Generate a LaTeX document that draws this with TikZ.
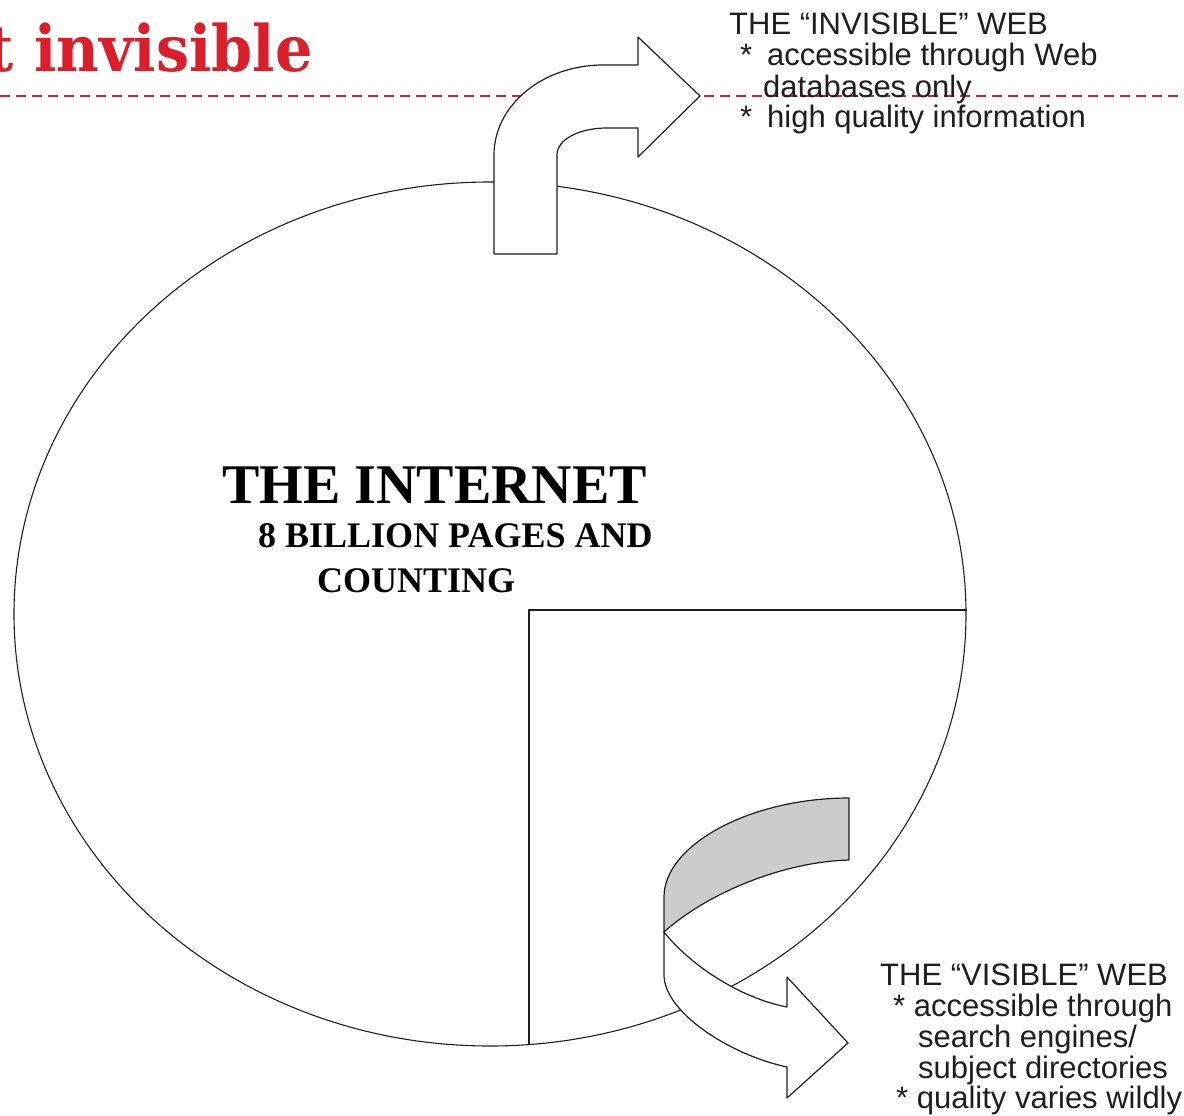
\documentclass[tikz,border=0pt]{standalone}
\usepackage{fontspec}
\setmainfont{Liberation Serif}
\newfontfamily\arialf{Liberation Sans}
\newfontfamily\slabf{DejaVu Serif}
\usetikzlibrary{shapes.geometric}
\definecolor{titlered}{HTML}{DA1F2B}
\definecolor{ink}{HTML}{1E1E1E}
\definecolor{ribbongrey}{HTML}{CCCCCC}
\tikzset{
  outline/.style={draw=ink, line width=1.2pt, line join=round},
  webtext/.style={anchor=base west, inner sep=0pt, text=ink, font=\arialf\fontsize{31}{31}\selectfont},
  nettext/.style={anchor=base west, inner sep=0pt, text=black},
}
\begin{document}
\begin{tikzpicture}[x=1pt,y=-1pt]
\useasboundingbox (0,0) rectangle (1184,1116);

% red dashed rule
\coordinate (ruleL) at (0,96);
\coordinate (ruleR) at (1184,96);
\draw[titlered, line width=2.2pt, dash pattern=on 10pt off 6pt] (ruleL) -- (ruleR);

% title (cut off at the left edge, as in the reference)
\node[anchor=base east, inner sep=0pt, text=titlered, font=\slabf\bfseries\fontsize{64}{64}\selectfont] (title) at (313,71) {\scalebox{0.92}[1]{t invisible}};

% the internet ellipse
\node[ellipse, outline, line width=1.1pt, minimum width=952pt, minimum height=864pt, inner sep=0pt] (net) at (490,614) {};
\coordinate (corner) at (529,610);
\coordinate (eastend) at (967,610);
\coordinate (southend) at (529,1045);
\draw[outline, line width=1.1pt] (eastend) -- (corner) -- (southend);

% upper bent arrow
\path[outline, fill=white]
  (494,254) -- (494,155)
  .. controls (494,105) and (543,65) .. (603,65)
  -- (638,65) -- (638,37) -- (700,96) -- (638,157) -- (638,128) -- (607,128)
  .. controls (580,128) and (557,139) .. (557,155)
  -- (557,254) -- cycle;

% lower twisted ribbon arrow: back (grey) part
\path[outline, fill=ribbongrey]
  (849,798) .. controls (750,798) and (664,845) .. (664,897)
  -- (664,932)
  .. controls (705,895) and (780,862) .. (849,860) -- cycle;
% front (white) part
\path[outline, fill=white]
  (664,932) .. controls (690,965) and (740,998) .. (787,1007)
  -- (787,977) -- (848,1043) -- (787,1098) -- (787,1067)
  .. controls (730,1055) and (664,1012) .. (664,975) -- cycle;

% internet text
\node[nettext, font=\bfseries\fontsize{56}{56}\selectfont] (inet) at (222,503) {THE INTERNET};
\node[nettext, font=\bfseries\fontsize{36}{36}\selectfont] (pages) at (258,547) {8 BILLION PAGES AND};
\node[nettext, font=\bfseries\fontsize{36}{36}\selectfont] (count) at (317,592) {COUNTING};

% invisible web text
\node[webtext] (inv1) at (729,35) {THE “INVISIBLE” WEB};
\node[webtext] (inv2) at (740,66) {*\hspace{15pt}accessible through Web};
\node[webtext] (inv3) at (763,97) {databases only};
\node[webtext] (inv4) at (740,128) {*\hspace{15pt}high quality information};

% visible web text
\node[webtext] (vis1) at (880,985) {THE “VISIBLE” WEB};
\node[webtext] (vis2) at (893,1016) {* accessible through};
\node[webtext] (vis3) at (918,1047) {search engines/};
\node[webtext] (vis4) at (918,1078) {subject directories};
\node[webtext] (vis5) at (896,1108) {* quality varies wildly};
\end{tikzpicture}
\end{document}
